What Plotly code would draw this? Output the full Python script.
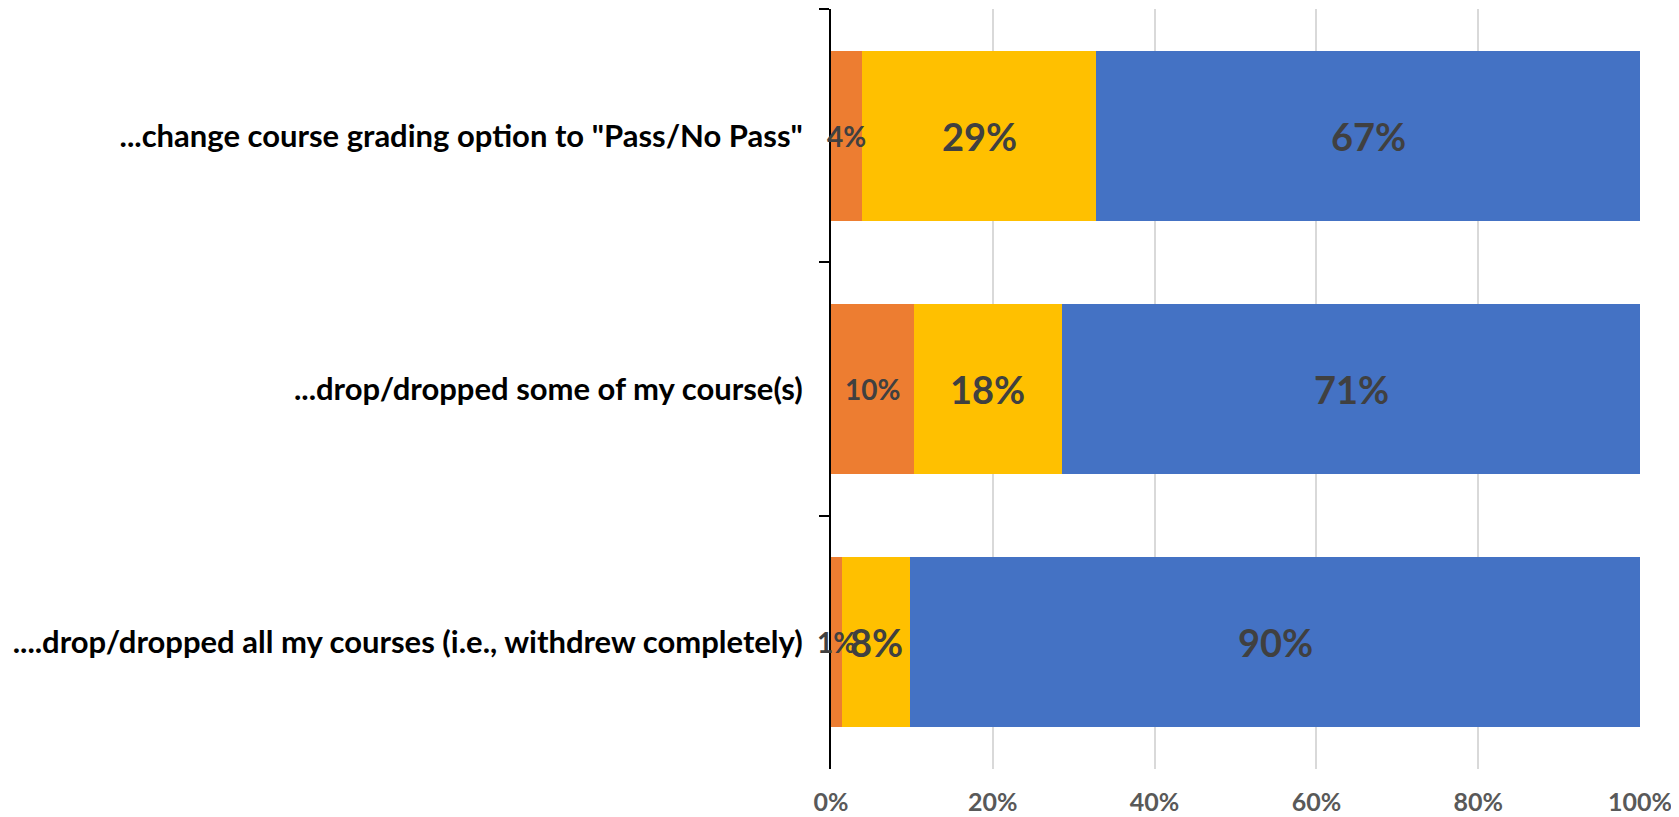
import plotly.graph_objects as go

categories = [
    '...change course grading option to "Pass/No Pass"',
    "...drop/dropped some of my course(s)",
    "....drop/dropped all my courses (i.e., withdrew completely)",
]
orange_vals = [3.8, 10.2, 1.4]
yellow_vals = [29.0, 18.4, 8.4]
blue_vals = [67.2, 71.4, 90.2]
x_ticks = [0, 20, 40, 60, 80, 100]

ORANGE = "#ED7D31"
YELLOW = "#FFC000"
BLUE = "#4472C4"
LABEL_COLOR = "#404040"
FONT = "Lato, 'Open Sans', sans-serif"

fig = go.Figure()
for vals, color in [(orange_vals, ORANGE), (yellow_vals, YELLOW), (blue_vals, BLUE)]:
    fig.add_trace(
        go.Bar(
            y=categories,
            x=vals,
            orientation="h",
            marker={"color": color, "line": {"width": 0}},
            hoverinfo="x+y",
        )
    )

# value labels centred on each segment
series = [(orange_vals, 28), (yellow_vals, 38), (blue_vals, 38)]
for i, cat in enumerate(categories):
    start = 0
    for vals, size in series:
        v = vals[i]
        fig.add_annotation(
            x=start + v / 2,
            y=cat,
            text=f"{round(v)}%",
            showarrow=False,
            font={"family": FONT, "size": size, "color": LABEL_COLOR, "weight": "bold"},
        )
        start += v

# page body adds an 8px offset, margins compensate for it
fig.update_layout(
    barmode="stack",
    bargap=0.33,
    showlegend=False,
    width=1679,
    height=817,
    plot_bgcolor="white",
    paper_bgcolor="white",
    margin={"l": 823, "r": 47, "t": 1, "b": 56},
    font={"family": FONT},
    xaxis={
        "range": [0, 100],
        "tickvals": x_ticks,
        "ticktext": [f"{t}%" for t in x_ticks],
        "showgrid": True,
        "gridcolor": "#D9D9D9",
        "gridwidth": 1.5,
        "zeroline": False,
        "showline": False,
        "tickfont": {"family": FONT, "size": 25, "color": "#595959", "weight": "bold"},
        "ticklabelstandoff": 16,
    },
    yaxis={
        "categoryorder": "array",
        "categoryarray": categories,
        "autorange": "reversed",
        "showline": True,
        "linecolor": "black",
        "linewidth": 2,
        "ticks": "outside",
        "tickson": "boundaries",
        "ticklen": 10,
        "tickwidth": 2,
        "tickcolor": "black",
        "showgrid": False,
        "tickfont": {"family": FONT, "size": 31, "color": "black", "weight": "bold"},
        "ticklabelstandoff": 20,
    },
)

fig.write_html("out.html")
